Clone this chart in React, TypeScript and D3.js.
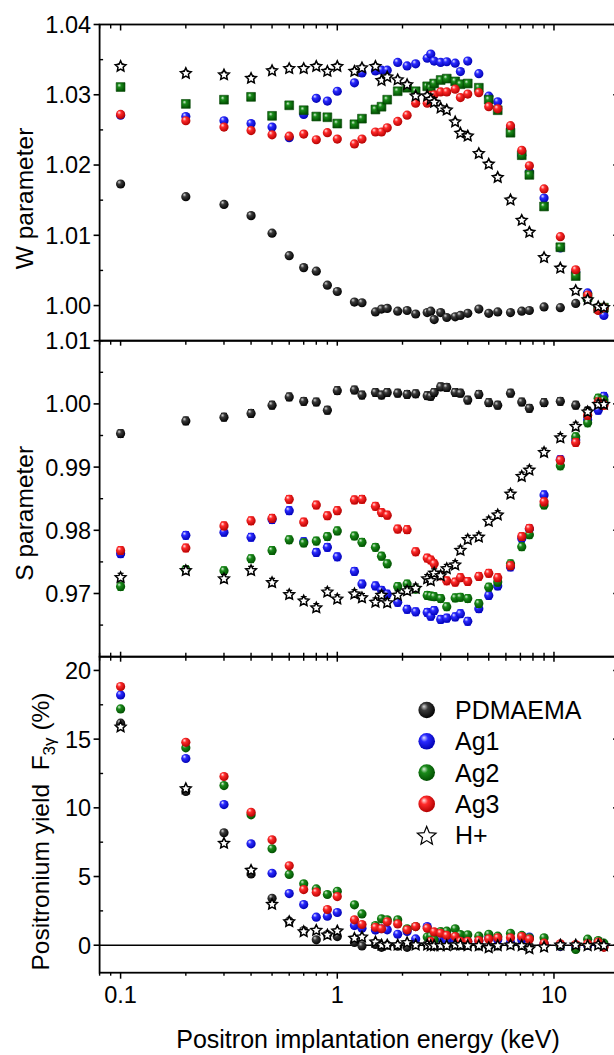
import React from "react";
import * as d3 from "d3";

// Positron implantation energies (keV)
const energy = [0.1, 0.2, 0.3, 0.4, 0.5, 0.6, 0.7, 0.8, 0.9, 1.0,
  1.2, 1.3, 1.5, 1.6, 1.7, 1.9, 2.1, 2.3, 2.6, 2.7, 2.8, 3.0, 3.2, 3.5, 3.7, 4.0,
  4.5, 5.0, 5.5, 6.3, 7.1, 7.7, 9.0, 10.7, 12.6, 14.3, 16.0, 17.0];

const seriesNames = ["PDMAEMA", "Ag1", "Ag2", "Ag3", "H+"];

// W parameter
const wPDMAEMA = [1.0173, 1.0155, 1.0144, 1.0128, 1.0103, 1.0071, 1.0054, 1.0049, 1.0029, 1.0020,
  1.0005, 1.0004, 0.9991, 0.9995, 0.9996, 0.9992, 0.9993, 0.9988, 0.9990, 0.9992, 0.9980, 0.9990, 0.9983, 0.9984, 0.9986, 0.9989,
  0.9995, 0.9989, 0.9991, 0.9990, 0.9992, 0.9993, 0.9998, 0.9997, 1.0003, 1.0009, 0.9997, 0.9996];
const wAg1 = [1.0271, 1.0269, 1.0263, 1.0259, 1.0254, 1.0239, 1.0272, 1.0295, 1.0291, 1.0305,
  1.0317, 1.0331, 1.0334, 1.0335, 1.0335, 1.0346, 1.0341, 1.0344, 1.0352, 1.0358, 1.0348, 1.0346, 1.0347, 1.0345, 1.0333, 1.0348,
  1.0330, 1.0298, 1.0290, 1.0254, 1.0214, 1.0190, 1.0153, 1.0082, 1.0048, 1.0018, 0.9994, 0.9986];
const wAg2 = [1.0311, 1.0287, 1.0293, 1.0297, 1.0270, 1.0285, 1.0278, 1.0269, 1.0268, 1.0259,
  1.0258, 1.0266, 1.0279, 1.0283, 1.0293, 1.0305, 1.0310, 1.0305, 1.0312, 1.0310, 1.0316, 1.0321, 1.0323, 1.0319, 1.0315, 1.0316,
  1.0310, 1.0293, 1.0278, 1.0246, 1.0214, 1.0186, 1.0141, 1.0083, 1.0042, 1.0012, 0.9996, 0.9997];
const wAg3 = [1.0272, 1.0263, 1.0254, 1.0249, 1.0243, 1.0241, 1.0244, 1.0236, 1.0246, 1.0237,
  1.0230, 1.0237, 1.0247, 1.0247, 1.0253, 1.0262, 1.0271, 1.0288, 1.0288, 1.0299, 1.0300, 1.0304, 1.0304, 1.0308, 1.0296, 1.0301,
  1.0303, 1.0283, 1.0280, 1.0256, 1.0221, 1.0199, 1.0166, 1.0098, 1.0051, 1.0015, 0.9993, 0.9997];
const wHplus = [1.0341, 1.0331, 1.0329, 1.0324, 1.0335, 1.0338, 1.0338, 1.0341, 1.0334, 1.0341,
  1.0334, 1.0339, 1.0341, 1.0321, 1.0326, 1.0322, 1.0315, 1.0299, 1.0299, 1.0294, 1.0290, 1.0282, 1.0279, 1.0262, 1.0246, 1.0242,
  1.0217, 1.0202, 1.0183, 1.0151, 1.0122, 1.0105, 1.0069, 1.0054, 1.0022, 1.0009, 0.9999, 0.9998];

// S parameter
const sPDMAEMA = [0.9953, 0.9973, 0.9979, 0.9985, 0.9998, 1.0011, 1.0004, 1.0003, 0.9990, 1.0021,
  1.0022, 1.0014, 1.0018, 1.0014, 1.0018, 1.0017, 1.0015, 1.0016, 1.0013, 1.0012, 1.0018, 1.0027, 1.0026, 1.0018, 1.0017, 1.0006,
  1.0015, 1.0002, 0.9998, 1.0017, 1.0003, 0.9993, 1.0002, 1.0004, 0.9998, 0.9989, 1.0000, 1.0001];
const sAg1 = [0.9763, 0.9792, 0.9797, 0.9789, 0.9817, 0.9831, 0.9782, 0.9765, 0.9773, 0.9758,
  0.9735, 0.9715, 0.9712, 0.9705, 0.9699, 0.9686, 0.9675, 0.9671, 0.9670, 0.9664, 0.9673, 0.9659, 0.9661, 0.9663, 0.9668, 0.9656,
  0.9676, 0.9697, 0.9712, 0.9742, 0.9787, 0.9802, 0.9856, 0.9912, 0.9943, 0.9975, 0.9990, 1.0012];
const sAg2 = [0.9711, 0.9738, 0.9736, 0.9755, 0.9768, 0.9785, 0.9780, 0.9783, 0.9790, 0.9799,
  0.9791, 0.9781, 0.9773, 0.9759, 0.9747, 0.9711, 0.9715, 0.9707, 0.9697, 0.9696, 0.9695, 0.9692, 0.9679, 0.9693, 0.9694, 0.9692,
  0.9684, 0.9710, 0.9718, 0.9747, 0.9774, 0.9793, 0.9840, 0.9902, 0.9948, 0.9970, 1.0009, 1.0006];
const sAg3 = [0.9768, 0.9772, 0.9807, 0.9815, 0.9819, 0.9849, 0.9813, 0.9840, 0.9823, 0.9831,
  0.9848, 0.9849, 0.9838, 0.9828, 0.9824, 0.9802, 0.9801, 0.9766, 0.9756, 0.9753, 0.9747, 0.9728, 0.9720, 0.9718, 0.9725, 0.9719,
  0.9727, 0.9732, 0.9725, 0.9744, 0.9790, 0.9803, 0.9845, 0.9911, 0.9939, 0.9982, 1.0003, 0.9998];
const sHplus = [0.9726, 0.9737, 0.9724, 0.9737, 0.9718, 0.9699, 0.9689, 0.9678, 0.9703, 0.9692,
  0.9700, 0.9694, 0.9687, 0.9698, 0.9686, 0.9698, 0.9705, 0.9709, 0.9724, 0.9721, 0.9733, 0.9729, 0.9740, 0.9746, 0.9769, 0.9786,
  0.9790, 0.9815, 0.9825, 0.9858, 0.9886, 0.9896, 0.9924, 0.9947, 0.9965, 0.9988, 1.0000, 1.0000];

// Positronium yield F3gamma (%)
const fPDMAEMA = [16.16, 11.19, 8.18, 5.19, 3.42, 1.75, 1.07, 0.39, 0.78, 0.63,
  0.20, -0.05, 0.06, -0.15, 0.0, -0.07, -0.15, 0.05, 0.05, 0.0, -0.05, -0.02, -0.02, 0.0, -0.02, -0.02,
  -0.05, -0.1, -0.05, 0.05, -0.02, -0.1, 0.05, -0.1, -0.05, -0.02, 0.05, -0.05];
const fAg1 = [18.22, 13.59, 10.24, 7.38, 5.24, 3.76, 2.96, 2.04, 2.11, 2.38,
  1.43, 1.24, 1.10, 1.20, 1.12, 0.80, 1.00, 0.46, 1.36, 0.80, 0.55, 0.50, 0.35, 0.40, 0.50, 0.25,
  0.30, 0.55, 0.40, 0.20, 0.40, 0.60, 0.10, -0.05, -0.15, 0.0, 0.10, 0.0];
const fAg2 = [17.20, 14.37, 11.62, 9.49, 7.02, 5.15, 4.47, 4.10, 3.69, 3.93,
  2.94, 2.28, 1.43, 1.92, 1.85, 1.85, 1.19, 1.36, 0.60, 0.66, 0.39, 1.00, 1.02, 1.19, 0.78, 0.76,
  0.66, 0.80, 0.66, 0.87, 0.71, 0.54, 0.54, -0.02, -0.31, 0.44, 0.34, 0.15];
const fAg3 = [18.83, 14.77, 12.28, 9.68, 7.67, 5.78, 4.05, 3.86, 2.60, 3.54,
  1.85, 1.51, 1.30, 1.20, 1.70, 1.55, 1.12, 1.36, 1.24, 0.29, 0.97, 0.87, 0.71, 0.63, 0.29, 0.29,
  0.34, 0.46, 0.54, 0.54, 0.63, 0.44, 0.15, 0.10, 0.05, 0.10, 0.22, -0.15];
const fHplus = [15.92, 11.43, 7.45, 5.49, 3.01, 1.75, 1.02, 1.12, 0.78, 1.07,
  0.54, 0.63, 0.27, 0.05, 0.05, 0.05, 0.22, 0.05, 0.05, 0.0, 0.0, 0.0, 0.0, 0.05, 0.05, 0.0,
  0.0, -0.15, 0.0, 0.05, 0.0, -0.22, -0.1, 0.05, 0.05, 0.0, 0.05, 0.0];

// uncertainties (half-width of error bars)
const errW = 0.0003;
const errS = 0.0006;
const errF = 0.1;

// tick values
const xMajor = [0.1, 1, 10];
const xMinor = [0.08, 0.09, 0.2, 0.3, 0.4, 0.5, 0.6, 0.7, 0.8, 0.9, 2, 3, 4, 5, 6, 7, 8, 9];
const wMajor = [1.0, 1.01, 1.02, 1.03, 1.04];
const wMinor = [0.995, 1.005, 1.015, 1.025, 1.035];
const sMajor = [0.97, 0.98, 0.99, 1.0, 1.01];
const sMinor = [0.965, 0.975, 0.985, 0.995, 1.005];
const fMajor = [0, 5, 10, 15, 20];
const fMinor = [2.5, 7.5, 12.5, 17.5];

const FONT = "'Liberation Sans', Arial, Helvetica, sans-serif";
const COLORS = ["#000000", "#0000ff", "#008000", "#ff0000"];
const GRAD = [
  ["#d8d8d8", "#3a3a3a", "#000000"],
  ["#e4e4ff", "#2a2aff", "#0000b0"],
  ["#d8f0d8", "#1a8a1a", "#004d00"],
  ["#ffe4e4", "#ff2a2a", "#b00000"],
];

// five-pointed star outline built with d3's radial line generator
function starPath(outer: number, inner: number): string {
  const pts = d3.range(10).map((k) => [(k * Math.PI) / 5, k % 2 === 0 ? outer : inner] as [number, number]);
  return (d3.lineRadial().curve(d3.curveLinearClosed)(pts) as string);
}

export default function App() {
  const x = d3.scaleLog().domain([0.08, 20]).range([99.6, 619.2]);
  const left = 99.6, right = 619.2;

  const panels = [
    {
      key: "w", y: d3.scaleLinear().domain([0.995, 1.04]).range([340.7, 24.5]),
      data: [wPDMAEMA, wAg1, wAg2, wAg3, wHplus], err: errW, major: wMajor, minor: wMinor,
      fmt: d3.format(".2f"), squareAg2: true,
    },
    {
      key: "s", y: d3.scaleLinear().domain([0.96, 1.01]).range([656.7, 340.7]),
      data: [sPDMAEMA, sAg1, sAg2, sAg3, sHplus], err: errS, major: sMajor, minor: sMinor,
      fmt: d3.format(".2f"), squareAg2: false,
    },
    {
      key: "f", y: d3.scaleLinear().domain([-2, 21]).range([972.7, 656.7]),
      data: [fPDMAEMA, fAg1, fAg2, fAg3, fHplus], err: errF, major: fMajor, minor: fMinor,
      fmt: d3.format("d"), squareAg2: false,
    },
  ];

  const square = d3.symbol().type(d3.symbolSquare).size(78)() as string;
  const starSmall = starPath(5.6, 2.7);
  const starLegend = starPath(9.8, 4.4);
  const R = 4.6;

  const axisStroke = 1.8;

  return (
    <svg width={614} height={1055} style={{ position: "absolute", left: 0, top: 0, background: "#fff" }}
      fontFamily={FONT}>
      <defs>
        {GRAD.map((g, i) => (
          <radialGradient key={i} id={`sph${i}`} cx="0.42" cy="0.4" r="0.62" fx="0.33" fy="0.28">
            <stop offset="0" stopColor={g[0]} />
            <stop offset="0.35" stopColor={g[1]} />
            <stop offset="1" stopColor={g[2]} />
          </radialGradient>
        ))}
      </defs>
      <rect x={0} y={0} width={614} height={1055} fill="#fff" />

      {panels.map((p) => {
        const [y0, y1] = p.y.range();
        return (
          <g key={p.key}>
            {p.key === "f" && (
              <line x1={left} x2={right} y1={p.y(0)} y2={p.y(0)} stroke="#000" strokeWidth={1.6} />
            )}
            {p.data.map((vals, si) => (
              <g key={si}>
                {vals.map((v, i) => {
                  const cx = x(energy[i]);
                  const cy = p.y(v);
                  const col = si < 4 ? COLORS[si] : "#000";
                  const ya = p.y(v - p.err), yb = p.y(v + p.err);
                  return (
                    <g key={i}>
                      <line x1={cx} x2={cx} y1={ya} y2={yb} stroke={col} strokeWidth={1.2} />
                      <line x1={cx - 3} x2={cx + 3} y1={ya} y2={ya} stroke={col} strokeWidth={1.2} />
                      <line x1={cx - 3} x2={cx + 3} y1={yb} y2={yb} stroke={col} strokeWidth={1.2} />
                      {si === 4 ? (
                        <path d={starSmall} transform={`translate(${cx},${cy + 0.5})`} fill="#fff" stroke="#000" strokeWidth={1.5} strokeLinejoin="miter" />
                      ) : si === 2 && p.squareAg2 ? (
                        <path d={square} transform={`translate(${cx},${cy})`} fill={`url(#sph${si})`} stroke="#0a4a0a" strokeWidth={0.6} />
                      ) : (
                        <circle cx={cx} cy={cy} r={R} fill={`url(#sph${si})`} />
                      )}
                    </g>
                  );
                })}
              </g>
            ))}

            <rect x={left} y={y1} width={right - left} height={y0 - y1} fill="none" stroke="#000" strokeWidth={axisStroke} />

            {p.major.map((t) => (
              <g key={"M" + t}>
                <line x1={left - 6} x2={left} y1={p.y(t)} y2={p.y(t)} stroke="#000" strokeWidth={1.6} />
                <line x1={right - 6} x2={right} y1={p.y(t)} y2={p.y(t)} stroke="#000" strokeWidth={1.6} />
                <text x={left - 8.5} y={p.y(t)} dy="0.36em" textAnchor="end" fontSize={23.5} fill="#000">
                  {p.fmt(t)}
                </text>
              </g>
            ))}
            {p.minor.map((t) => (
              <g key={"m" + t}>
                <line x1={left} x2={left + 3.5} y1={p.y(t)} y2={p.y(t)} stroke="#000" strokeWidth={1.4} />
                <line x1={right - 3.5} x2={right} y1={p.y(t)} y2={p.y(t)} stroke="#000" strokeWidth={1.4} />
              </g>
            ))}
          </g>
        );
      })}

      {[
        { yy: 24.5, dir: 1, lm: 6, lmin: 4 },
        { yy: 340.7, dir: 1, lm: 5, lmin: 4 },
        { yy: 656.7, dir: -1, lm: 5, lmin: 4 },
        { yy: 656.7, dir: 1, lm: 5, lmin: 4 },
        { yy: 972.7, dir: 1, lm: 6, lmin: 3 },
      ].map((a, ai) => (
        <g key={ai}>
          {xMajor.map((t) => (
            <line key={"M" + t} x1={x(t)} x2={x(t)} y1={a.yy} y2={a.yy + a.dir * a.lm} stroke="#000" strokeWidth={1.5} />
          ))}
          {xMinor.map((t) => (
            <line key={"m" + t} x1={x(t)} x2={x(t)} y1={a.yy} y2={a.yy + a.dir * a.lmin} stroke="#000" strokeWidth={1.4} />
          ))}
        </g>
      ))}

      {xMajor.map((t) => (
        <text key={t} x={x(t)} y={1002.5} textAnchor="middle" fontSize={23.5} fill="#000">
          {d3.format("~g")(t)}
        </text>
      ))}

      <text x={368} y={1047.5} textAnchor="middle" fontSize={25} fill="#000">
        Positron implantation energy (keV)
      </text>
      <text transform={`translate(33,198.5) rotate(-90)`} textAnchor="middle" fontSize={24.5} fill="#000">
        W parameter
      </text>
      <text transform={`translate(33,513.3) rotate(-90)`} textAnchor="middle" fontSize={24.5} fill="#000">
        S parameter
      </text>
      <text transform={`translate(49,831.5) rotate(-90)`} textAnchor="middle" fontSize={24.5} fill="#000">
        Positronium yield{"\u00a0\u00a0"}F<tspan fontSize={17} dy={6}>3γ</tspan><tspan dy={-6}> (%)</tspan>
      </text>

      {seriesNames.map((name, i) => {
        const ly = 710 + i * 31.3;
        return (
          <g key={name}>
            {i < 4 ? (
              <circle cx={426.7} cy={ly} r={8.3} fill={`url(#sph${i})`} />
            ) : (
              <path d={starLegend} transform={`translate(426.7,${ly + 1})`} fill="#fff" stroke="#000" strokeWidth={1.2} />
            )}
            <text x={455} y={ly} dy="0.36em" fontSize={25} fill="#000">{name}</text>
          </g>
        );
      })}
    </svg>
  );
}
